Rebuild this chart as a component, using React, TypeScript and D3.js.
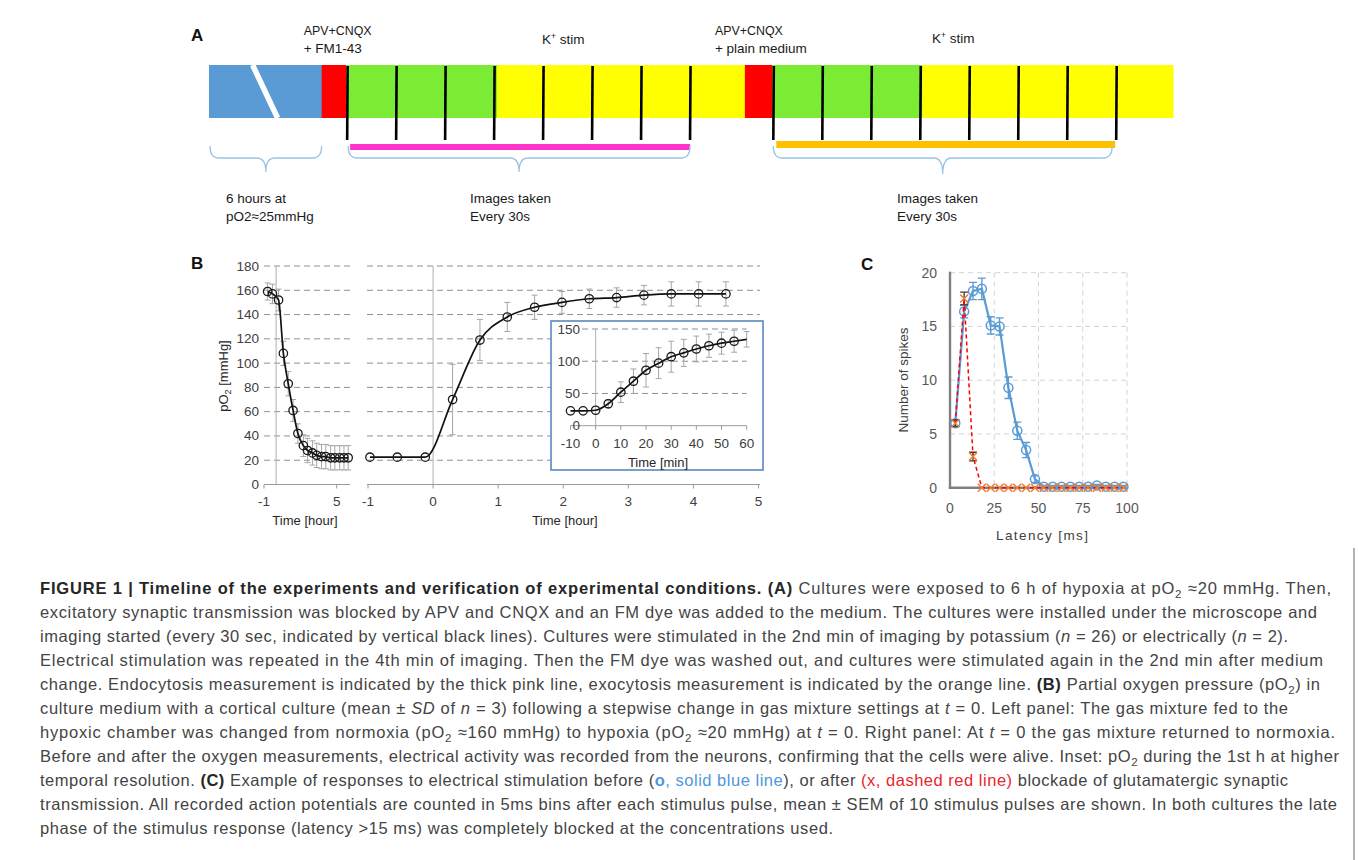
import React from "react"
import * as d3 from "d3"

const SANS = "'Liberation Sans', Arial, Helvetica, sans-serif"

// A: timeline, minutes along the bar (the 6 h hypoxia block is drawn shortened)
const segmentKinds = ["hypoxia", "block", "stim", "wash", "block", "stim", "wash"]
const segmentMinutes = [1.15, 0.25, 1.54, 2.53, 0.28, 1.53, 2.56]
const imagingFrames = [0, 0.5, 1, 1.5, 2, 2.5, 3, 3.5]

// B: pO2 [mmHg], mean and SD
const hypoxiaHours = [-0.7, -0.3, 0.2, 0.6, 1.0, 1.4, 1.8, 2.25, 2.6, 3.0, 3.35, 3.75, 4.1, 4.5, 4.85, 5.25, 5.6, 5.95]
const hypoxiaPO2 = [159, 157, 152, 108, 83, 61, 42, 32, 28, 26, 24, 23, 23, 22, 22, 22, 22, 22]
const hypoxiaSD = [7, 8, 9, 10, 10, 9, 8, 9, 10, 10, 10, 10, 10, 10, 10, 10, 10, 10]

const normoxiaHours = [-0.97, -0.55, -0.12, 0.3, 0.72, 1.14, 1.56, 1.98, 2.4, 2.82, 3.24, 3.66, 4.08, 4.5]
const normoxiaPO2 = [22.5, 22.5, 22.5, 70, 119, 138, 146, 150, 153, 154, 156, 157, 157, 157]
const normoxiaSD = [0, 0, 0, 29, 17, 12, 10, 9, 8, 8, 8, 10, 10, 10]

const insetMinutes = [-10, -5, 0, 5, 10, 15, 20, 25, 30, 35, 40, 45, 50, 55, 60]
const insetPO2 = [23, 23, 24, 34, 52, 69, 86, 97, 107, 113, 119, 124, 128, 131, 134]
const insetSD = [0, 0, 0, 6, 16, 19, 26, 24, 24, 21, 20, 18, 17, 17, 12]

const pO2Ticks = [0, 20, 40, 60, 80, 100, 120, 140, 160, 180]
const leftHourTicks = [-1, 5]
const rightHourTicks = [-1, 0, 1, 2, 3, 4, 5]
const insetPO2Ticks = [0, 50, 100, 150]
const insetMinuteTicks = [-10, 0, 10, 20, 30, 40, 50, 60]

// C: spikes per 5 ms bin, mean and SEM
const latencyMs = [3, 8, 13, 18, 23, 28, 33, 38, 43, 48, 53, 58, 63, 68, 73, 78, 83, 88, 93, 98]
const spikesBefore = [6.0, 16.4, 18.3, 18.5, 15.1, 15.0, 9.3, 5.3, 3.5, 0.8, 0.1, 0.1, 0.1, 0.1, 0.1, 0.1, 0.2, 0.1, 0.1, 0.1]
const semBefore = [0.3, 0.6, 0.8, 1.0, 0.8, 0.8, 1.0, 0.8, 0.7, 0.3, 0.1, 0.1, 0.1, 0.1, 0.1, 0.1, 0.1, 0.1, 0.1, 0.1]
const spikesAfter = [6.0, 17.6, 2.9, 0, 0, 0, 0, 0, 0, 0, 0, 0, 0, 0, 0, 0, 0, 0, 0, 0]
const semAfter = [0.3, 0.6, 0.4, 0, 0, 0, 0, 0, 0, 0, 0, 0, 0, 0, 0, 0, 0, 0, 0, 0]
const spikeTicks = [0, 5, 10, 15, 20]
const latencyTicks = [0, 25, 50, 75, 100]

type Part = [string, string]
const captionLines: Part[][] = [
  [["FIGURE 1 | Timeline of the experiments and verification of experimental conditions.", "b"], [" ", ""], ["(A)", "b"], [" Cultures were exposed to 6 h of hypoxia at pO", ""], ["2", "sub"], [" \u224820 mmHg. Then,", ""]],
  [["excitatory synaptic transmission was blocked by APV and CNQX and an FM dye was added to the medium. The cultures were installed under the microscope and", ""]],
  [["imaging started (every 30 sec, indicated by vertical black lines). Cultures were stimulated in the 2nd min of imaging by potassium (", ""], ["n", "i"], [" = 26) or electrically (", ""], ["n", "i"], [" = 2).", ""]],
  [["Electrical stimulation was repeated in the 4th min of imaging. Then the FM dye was washed out, and cultures were stimulated again in the 2nd min after medium", ""]],
  [["change. Endocytosis measurement is indicated by the thick pink line, exocytosis measurement is indicated by the orange line. ", ""], ["(B)", "b"], [" Partial oxygen pressure (pO", ""], ["2", "sub"], [") in", ""]],
  [["culture medium with a cortical culture (mean \u00b1 ", ""], ["SD", "i"], [" of ", ""], ["n", "i"], [" = 3) following a stepwise change in gas mixture settings at ", ""], ["t", "i"], [" = 0. Left panel: The gas mixture fed to the", ""]],
  [["hypoxic chamber was changed from normoxia (pO", ""], ["2", "sub"], [" \u2248160 mmHg) to hypoxia (pO", ""], ["2", "sub"], [" \u224820 mmHg) at ", ""], ["t", "i"], [" = 0. Right panel: At ", ""], ["t", "i"], [" = 0 the gas mixture returned to normoxia.", ""]],
  [["Before and after the oxygen measurements, electrical activity was recorded from the neurons, confirming that the cells were alive. Inset: pO", ""], ["2", "sub"], [" during the 1st h at higher", ""]],
  [["temporal resolution. ", ""], ["(C)", "b"], [" Example of responses to electrical stimulation before (", ""], ["o", "blueb"], [", solid blue line", "blue"], ["), or after ", ""], ["(x, dashed red line)", "red"], [" blockade of glutamatergic synaptic", ""]],
  [["transmission. All recorded action potentials are counted in 5ms bins after each stimulus pulse, mean \u00b1 SEM of 10 stimulus pulses are shown. In both cultures the late", ""]],
  [["phase of the stimulus response (latency >15 ms) was completely blocked at the concentrations used.", ""]],
]
const captionEnds = [1331, 1317, 1288, 1323, 1320, 1288, 1335, 1339, 1288, 1337, 833]

const kindColor: Record<string, string> = {
  hypoxia: "#5b9bd5",
  block: "#ff0000",
  stim: "#7ceb34",
  wash: "#ffff00",
}

const brace = (x0: number, x1: number, yTop: number, yMid: number, yTip: number) => {
  const xt = (x0 + x1) / 2
  const r = 9
  return `M${x0},${yTop} Q${x0},${yMid} ${x0 + r},${yMid} L${xt - r},${yMid} Q${xt},${yMid} ${xt},${yTip} Q${xt},${yMid} ${xt + r},${yMid} L${x1 - r},${yMid} Q${x1},${yMid} ${x1},${yTop}`
}

function PanelA() {
  const x = d3.scaleLinear().domain([0, d3.sum(segmentMinutes)]).range([209, 1173])
  const starts = [0, ...Array.from(d3.cumsum(segmentMinutes))]
  const groups = [starts[2], starts[5]]
  const barTop = 65
  const barBottom = 118
  const lastFrame = imagingFrames[imagingFrames.length - 1]
  const txt = { fontSize: 13.5, fill: "#1a1a1a" }

  return (
    <g>
      <text x={191} y={41} fontSize={17} fontWeight="bold" fill="#111">A</text>
      {segmentKinds.map((k, i) => (
        <rect
          key={i}
          x={x(starts[i])}
          y={barTop}
          width={x(starts[i + 1]) - x(starts[i]) + 0.5}
          height={barBottom - barTop}
          fill={kindColor[k]}
        />
      ))}
      {/* break mark in the hypoxia block */}
      <line x1={x(0.445)} y1={barTop} x2={x(0.7)} y2={barBottom} stroke="#fff" strokeWidth={5.5} />

      {groups.map((g, gi) =>
        imagingFrames.map((f) => (
          <line
            key={`${gi}-${f}`}
            x1={x(g + f) + 1.5}
            x2={x(g + f) + 1}
            y1={barTop + 1}
            y2={140}
            stroke="#000"
            strokeWidth={2.6}
          />
        ))
      )}

      <rect x={x(groups[0]) + 4} y={144} width={x(groups[0] + lastFrame) - x(groups[0]) - 3} height={6} fill="#ff33cc" />
      <rect x={x(groups[1]) + 4} y={141} width={x(groups[1] + lastFrame) - x(groups[1]) - 4} height={7} fill="#ffc000" />

      <g fill="none" stroke="#9dc3e6" strokeWidth={1.3}>
        <path d={brace(x(0) + 1, x(starts[1]), 146, 158, 172)} />
        <path d={brace(x(groups[0]) + 2, x(groups[0] + lastFrame) + 1, 146, 158, 172)} />
        <path d={brace(x(groups[1]) + 1, x(groups[1] + lastFrame) - 3, 146, 158, 174)} />
      </g>

      <g {...txt}>
        <text x={x(starts[1]) - 18} y={34.5} textLength={68} lengthAdjust="spacingAndGlyphs">APV+CNQX</text>
        <text x={x(starts[1]) - 18} y={52.5}>+ FM1-43</text>
        <text x={x(groups[0] + 2.0)} y={43.5}>
          K<tspan fontSize={8.5} dy={-5}>+</tspan><tspan dy={5}> stim</tspan>
        </text>
        <text x={x(starts[4]) - 30} y={34.5} textLength={68} lengthAdjust="spacingAndGlyphs">APV+CNQX</text>
        <text x={x(starts[4]) - 30} y={52.5}>+ plain medium</text>
        <text x={x(groups[1] + 1.63)} y={42.5}>
          K<tspan fontSize={8.5} dy={-5}>+</tspan><tspan dy={5}> stim</tspan>
        </text>

        <text x={226} y={202.5}>6 hours at</text>
        <text x={226} y={220.5}>pO2≈25mmHg</text>
        <text x={470} y={202.5}>Images taken</text>
        <text x={470} y={220.5}>Every 30s</text>
        <text x={897} y={202.5}>Images taken</text>
        <text x={897} y={220.5}>Every 30s</text>
      </g>
    </g>
  )
}

function PanelB() {
  const y = d3.scaleLinear().domain([0, 180]).range([484.5, 266])
  const xL = d3.scaleLinear().domain([-1, 6.1]).range([264, 350])
  const xR = d3.scaleLinear().domain([-1, 5]).range([368, 758.5])
  const iy = d3.scaleLinear().domain([0, 150]).range([425.7, 329])
  const ix = d3.scaleLinear().domain([-10, 60]).range([570.5, 746.7])

  const line = d3.line<[number, number]>().curve(d3.curveMonotoneX)
  const leftPts: [number, number][] = hypoxiaHours.map((h, i) => [xL(h), y(hypoxiaPO2[i])])
  const rightPts: [number, number][] = normoxiaHours.map((h, i) => [xR(h), y(normoxiaPO2[i])])
  const insetPts: [number, number][] = insetMinutes.map((m, i) => [ix(m), iy(insetPO2[i])])

  const tick = { fontSize: 13.5, fill: "#404040" }
  const grid = { stroke: "#8f8f8f", strokeWidth: 1, strokeDasharray: "6,4" }
  const err = { stroke: "#a6a6a6", strokeWidth: 1, fill: "none" }

  const errBars = (pts: [number, number][], vals: number[], sds: number[], ys: d3.ScaleLinear<number, number>) =>
    pts.map(([px], i) =>
      sds[i] > 0 ? (
        <path
          key={i}
          {...err}
          d={`M${px},${ys(vals[i] - sds[i])}V${ys(vals[i] + sds[i])}M${px - 3},${ys(vals[i] - sds[i])}h6M${px - 3},${ys(vals[i] + sds[i])}h6`}
        />
      ) : null
    )

  const markers = (pts: [number, number][]) =>
    pts.map(([px, py], i) => <circle key={i} cx={px} cy={py} r={4.2} fill="none" stroke="#1a1a1a" strokeWidth={1.3} />)

  return (
    <g>
      <text x={191} y={269} fontSize={17} fontWeight="bold" fill="#111">B</text>

      {/* left panel: switch to hypoxia */}
      {pO2Ticks.filter((v) => v > 0).map((v) => (
        <line key={v} x1={xL.range()[0]} x2={xL.range()[1]} y1={y(v)} y2={y(v)} {...grid} />
      ))}
      <line x1={xL(0)} x2={xL(0)} y1={y(180)} y2={y(0)} stroke="#b0b0b0" />
      <line x1={xL.range()[0]} x2={xL.range()[1]} y1={y(0)} y2={y(0)} stroke="#9a9a9a" />
      {leftHourTicks.map((t) => (
        <g key={t}>
          <line x1={xL(t)} x2={xL(t)} y1={y(0)} y2={y(0) + 4} stroke="#9a9a9a" />
          <text x={xL(t)} y={506} textAnchor="middle" {...tick}>{t}</text>
        </g>
      ))}
      {pO2Ticks.map((v) => (
        <text key={v} x={259} y={y(v) + 4.5} textAnchor="end" {...tick}>{v}</text>
      ))}
      <text transform="translate(228,376) rotate(-90)" textAnchor="middle" fontSize={13} fill="#262626">
        pO<tspan fontSize={9} dy={3}>2</tspan><tspan dy={-3}> [mmHg]</tspan>
      </text>
      <text x={305} y={525} textAnchor="middle" fontSize={13} fill="#262626">Time [hour]</text>
      {errBars(leftPts, hypoxiaPO2, hypoxiaSD, y)}
      <path d={line(leftPts) ?? ""} fill="none" stroke="#111" strokeWidth={1.7} />
      {markers(leftPts)}

      {/* right panel: back to normoxia */}
      {pO2Ticks.filter((v) => v > 0).map((v) => (
        <line key={v} x1={367} x2={760} y1={y(v)} y2={y(v)} {...grid} />
      ))}
      <line x1={xR(0)} x2={xR(0)} y1={y(180)} y2={y(0)} stroke="#b0b0b0" />
      <line x1={367} x2={760} y1={y(0)} y2={y(0)} stroke="#9a9a9a" />
      {rightHourTicks.map((t) => (
        <g key={t}>
          <line x1={xR(t)} x2={xR(t)} y1={y(0)} y2={y(0) + 4} stroke="#9a9a9a" />
          <text x={xR(t)} y={506} textAnchor="middle" {...tick}>{t}</text>
        </g>
      ))}
      <text x={565} y={525} textAnchor="middle" fontSize={13} fill="#262626">Time [hour]</text>
      {errBars(rightPts, normoxiaPO2, normoxiaSD, y)}
      <path d={line(rightPts) ?? ""} fill="none" stroke="#111" strokeWidth={1.7} />
      {markers(rightPts)}

      {/* inset: first hour */}
      <rect x={551} y={321} width={212} height={149} fill="#fff" stroke="#5b87c0" strokeWidth={1.6} />
      {insetPO2Ticks.filter((v) => v > 0).map((v) => (
        <line key={v} x1={582} x2={ix(60)} y1={iy(v)} y2={iy(v)} {...grid} />
      ))}
      <line x1={ix(0)} x2={ix(0)} y1={iy(150)} y2={iy(0)} stroke="#b0b0b0" />
      <line x1={ix(-10)} x2={ix(60)} y1={iy(0)} y2={iy(0)} stroke="#9a9a9a" />
      {insetPO2Ticks.map((v) => (
        <text key={v} x={580} y={iy(v) + 4.5} textAnchor="end" {...tick}>{v}</text>
      ))}
      {insetMinuteTicks.map((t) => (
        <g key={t}>
          <line x1={ix(t)} x2={ix(t)} y1={iy(0)} y2={iy(0) + 4} stroke="#9a9a9a" />
          <text x={ix(t)} y={448} textAnchor="middle" {...tick}>{t}</text>
        </g>
      ))}
      <text x={658} y={467} textAnchor="middle" fontSize={13} fill="#262626">Time [min]</text>
      {errBars(insetPts, insetPO2, insetSD, iy)}
      <path d={line(insetPts) ?? ""} fill="none" stroke="#111" strokeWidth={1.7} />
      {markers(insetPts.slice(0, -1))}
    </g>
  )
}

function PanelC() {
  const x = d3.scaleLinear().domain([0, 100]).range([950, 1127])
  const y = d3.scaleLinear().domain([0, 20]).range([487.7, 272.7])
  const line = d3.line<number>().x((_, i) => x(latencyMs[i]))
  const grid = { stroke: "#d4d4d4", strokeWidth: 1, strokeDasharray: "5,4" }
  const tick = { fontSize: 14, fill: "#595959" }

  return (
    <g>
      <text x={861} y={270} fontSize={17} fontWeight="bold" fill="#111">C</text>
      {spikeTicks.filter((v) => v > 0).map((v) => (
        <line key={v} x1={x(0)} x2={x(100)} y1={y(v)} y2={y(v)} {...grid} />
      ))}
      {latencyTicks.filter((v) => v > 0).map((v) => (
        <line key={v} x1={x(v)} x2={x(v)} y1={y(20)} y2={y(0)} {...grid} />
      ))}
      <line x1={x(0)} x2={x(0)} y1={y(20) - 1} y2={y(0) + 1.2} stroke="#808080" strokeWidth={2.4} />
      <line x1={x(0) - 1.2} x2={x(100)} y1={y(0)} y2={y(0)} stroke="#808080" strokeWidth={2.4} />
      {spikeTicks.map((v) => (
        <text key={v} x={937} y={y(v) + 5} textAnchor="end" {...tick}>{v}</text>
      ))}
      {latencyTicks.map((v) => (
        <text key={v} x={x(v)} y={513} textAnchor="middle" {...tick}>{v}</text>
      ))}
      <text transform="translate(908,380) rotate(-90)" textAnchor="middle" fontSize={13.5} fill="#404040">
        Number of spikes
      </text>
      <text x={1042} y={540} textAnchor="middle" fontSize={13.5} fill="#404040" textLength={92} lengthAdjust="spacing">
        Latency [ms]
      </text>

      {/* before blockade */}
      {latencyMs.map((l, i) => {
        const px = x(l)
        const lo = y(spikesBefore[i] - semBefore[i])
        const hi = y(spikesBefore[i] + semBefore[i])
        return (
          <path key={i} d={`M${px},${lo}V${hi}M${px - 4},${lo}h8M${px - 4},${hi}h8`} stroke="#5b9bd5" strokeWidth={1.4} fill="none" />
        )
      })}
      <path d={line.y((d) => y(d))(spikesBefore) ?? ""} fill="none" stroke="#5b9bd5" strokeWidth={2.2} />
      {latencyMs.map((l, i) => (
        <circle key={i} cx={x(l)} cy={y(spikesBefore[i])} r={4.5} fill="none" stroke="#5b9bd5" strokeWidth={1.5} />
      ))}

      {/* after blockade */}
      {latencyMs.map((l, i) => {
        if (semAfter[i] <= 0) return null
        const px = x(l)
        const lo = y(spikesAfter[i] - semAfter[i])
        const hi = y(spikesAfter[i] + semAfter[i])
        return (
          <path key={i} d={`M${px},${lo}V${hi}M${px - 4},${lo}h8M${px - 4},${hi}h8`} stroke="#3a3a3a" strokeWidth={1.3} fill="none" />
        )
      })}
      <path d={line.y((d) => y(d))(spikesAfter) ?? ""} fill="none" stroke="#ff0000" strokeWidth={1.5} strokeDasharray="4,3" />
      {latencyMs.map((l, i) => {
        const px = x(l)
        const py = y(spikesAfter[i])
        return (
          <path key={i} d={`M${px - 4},${py - 4}L${px + 4},${py + 4}M${px - 4},${py + 4}L${px + 4},${py - 4}`} stroke="#ed7d31" strokeWidth={1.5} />
        )
      })}
    </g>
  )
}

function Caption() {
  const left = 40
  return (
    <g fontSize={16.5} fill="#444" style={{ whiteSpace: "pre" }}>
      {captionLines.map((parts, i) => {
        let prevSub = false
        return (
          <text key={i} x={left} y={594 + i * 24} textLength={captionEnds[i] - left} lengthAdjust="spacing">
            {parts.map(([t, s], j) => {
              const dy = s === "sub" ? 4 : prevSub ? -4 : undefined
              prevSub = s === "sub"
              return (
                <tspan
                  key={j}
                  dy={dy}
                  fontWeight={s === "b" || s === "blueb" ? "bold" : undefined}
                  fontStyle={s === "i" ? "italic" : undefined}
                  fontSize={s === "sub" ? 11.5 : undefined}
                  fill={s.startsWith("blue") ? "#4f97dc" : s === "red" ? "#e8262d" : s === "b" ? "#262626" : undefined}
                >
                  {t}
                </tspan>
              )
            })}
          </text>
        )
      })}
      <line x1={1354} x2={1354} y1={548} y2={860} stroke="#9a9a9a" strokeWidth={1.5} />
    </g>
  )
}

export default function App() {
  return (
    <svg
      width={1358}
      height={860}
      style={{ position: "absolute", left: 0, top: 0, background: "#fff" }}
      fontFamily={SANS}
    >
      <PanelA />
      <PanelB />
      <PanelC />
      <Caption />
    </svg>
  )
}
